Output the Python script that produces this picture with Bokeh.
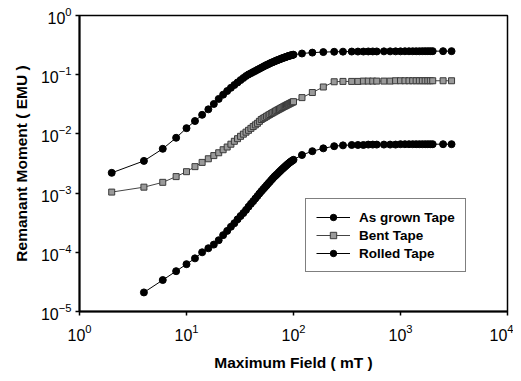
from bokeh.plotting import figure
from bokeh.models import Legend, LegendItem, FixedTicker
from bokeh.embed import file_html
from bokeh.resources import INLINE

# Maximum field (mT)
field = [2, 4, 6, 8, 10, 12, 14, 16, 18, 20,
         22, 24, 26, 28, 30, 32, 34, 36, 38, 40,
         42, 44, 46, 48, 50, 52, 54, 56, 58, 60,
         62, 64, 66, 68, 70, 72, 74, 76, 78, 80,
         82, 84, 86, 88, 90, 92, 94, 96, 98, 100,
         120, 150, 190, 240, 290, 350,
         400, 450, 500, 550, 600, 700, 800, 900, 1000, 1100,
         1200, 1300, 1400, 1500, 1600, 1700, 1800, 1900, 2000,
         2500, 3000]

as_grown = [0.0022, 0.0035, 0.0056, 0.0086, 0.0125, 0.0165, 0.021, 0.026, 0.032, 0.039,
            0.046, 0.053, 0.060, 0.067, 0.074, 0.081, 0.088, 0.095, 0.101, 0.106,
            0.111, 0.116, 0.121, 0.126, 0.131, 0.136, 0.141, 0.146, 0.150, 0.155,
            0.159, 0.163, 0.167, 0.171, 0.175, 0.178, 0.182, 0.185, 0.189, 0.192,
            0.195, 0.198, 0.201, 0.204, 0.207, 0.209, 0.212, 0.214, 0.216, 0.218,
            0.228, 0.236, 0.241, 0.244, 0.245, 0.246,
            0.246, 0.246, 0.247, 0.247, 0.247, 0.248, 0.248, 0.248, 0.248, 0.249,
            0.249, 0.249, 0.249, 0.249, 0.250, 0.250, 0.250, 0.250, 0.250,
            0.250, 0.250]

bent = [0.00104, 0.00126, 0.00152, 0.0019, 0.0023, 0.0028, 0.0033, 0.0038, 0.0043, 0.0048,
        0.0054, 0.0060, 0.0067, 0.0075, 0.0083, 0.0091, 0.0099, 0.0107, 0.0115, 0.0124,
        0.0133, 0.0142, 0.0151, 0.0163, 0.0175, 0.0183, 0.0190, 0.0198, 0.0206, 0.0213,
        0.0221, 0.0228, 0.0235, 0.0243, 0.0250, 0.0257, 0.0264, 0.0271, 0.0278, 0.0285,
        0.0292, 0.0298, 0.0305, 0.0312, 0.0318, 0.0325, 0.0331, 0.0338, 0.0344, 0.0350,
        0.041, 0.050, 0.062, 0.076, 0.077, 0.077,
        0.077, 0.078, 0.078, 0.078, 0.078, 0.078, 0.078, 0.079, 0.079, 0.079,
        0.079, 0.079, 0.079, 0.079, 0.079, 0.079, 0.079, 0.079, 0.079,
        0.079, 0.079]

# Rolled tape has no point at 2 mT
rolled_field = field[1:]
rolled = [2.1e-5, 3.4e-5, 4.8e-5, 6.3e-5, 7.9e-5, 1.0e-4, 1.17e-4, 1.35e-4, 1.6e-4,
          1.95e-4, 2.3e-4, 2.7e-4, 3.1e-4, 3.6e-4, 4.1e-4, 4.6e-4, 5.2e-4, 5.9e-4, 6.6e-4,
          7.3e-4, 8.1e-4, 8.9e-4, 9.8e-4, 1.07e-3, 1.16e-3, 1.25e-3, 1.35e-3, 1.45e-3, 1.55e-3,
          1.66e-3, 1.77e-3, 1.88e-3, 1.98e-3, 2.08e-3, 2.19e-3, 2.30e-3, 2.41e-3, 2.52e-3, 2.63e-3,
          2.74e-3, 2.85e-3, 2.96e-3, 3.07e-3, 3.18e-3, 3.28e-3, 3.38e-3, 3.47e-3, 3.56e-3, 3.65e-3,
          4.4e-3, 5.1e-3, 5.7e-3, 6.2e-3, 6.4e-3, 6.5e-3,
          6.5e-3, 6.5e-3, 6.6e-3, 6.6e-3, 6.6e-3, 6.6e-3, 6.6e-3, 6.6e-3, 6.7e-3, 6.7e-3,
          6.7e-3, 6.7e-3, 6.7e-3, 6.7e-3, 6.7e-3, 6.7e-3, 6.7e-3, 6.7e-3, 6.7e-3,
          6.7e-3, 6.7e-3]

x_ticks = [1, 10, 100, 1000, 10000]
y_ticks = [1e-5, 1e-4, 1e-3, 1e-2, 1e-1, 1]

FONT = "Liberation Sans"

p = figure(width=513, height=373, x_axis_type="log", y_axis_type="log",
           x_range=(1, 10000), y_range=(1e-5, 1),
           output_backend="svg", toolbar_location=None,
           min_border_left=79, min_border_right=6, min_border_top=15, min_border_bottom=58)

p.xgrid.visible = False
p.ygrid.visible = False
p.outline_line_color = "black"
p.outline_line_width = 1.5
p.background_fill_color = "white"
p.border_fill_color = "white"

for ax in (p.xaxis[0], p.yaxis[0]):
    ax.axis_line_width = 2
    ax.axis_line_color = "black"
    ax.major_tick_line_width = 1.5
    ax.major_tick_out = 4
    ax.major_tick_in = 0
    ax.minor_tick_line_color = None
    ax.major_label_text_font = FONT
    ax.major_label_text_font_size = "16px"
    ax.major_label_text_color = "black"
    ax.axis_label_text_font = FONT
    ax.axis_label_text_font_size = "15.5px"
    ax.axis_label_text_font_style = "bold"
    ax.axis_label_text_color = "black"

p.xaxis.ticker = FixedTicker(ticks=x_ticks)
p.yaxis.ticker = FixedTicker(ticks=y_ticks)
p.xaxis.axis_label = "Maximum Field ( mT )"
p.yaxis.axis_label = "Remanant Moment ( EMU )"
p.xaxis.major_label_standoff = 8
p.xaxis.axis_label_standoff = 10
p.yaxis.major_label_standoff = 4
p.yaxis.axis_label_standoff = 8

l1 = p.line(field, as_grown, line_color="black", line_width=1)
s1 = p.scatter(field, as_grown, marker="circle", size=7, fill_color="black", line_color="black")
l2 = p.line(field, bent, line_color="#444444", line_width=1)
s2 = p.scatter(field, bent, marker="square", size=6, fill_color="#9a9a9a", line_color="#3a3a3a", line_width=1)
l3 = p.line(rolled_field, rolled, line_color="black", line_width=1)
s3 = p.scatter(rolled_field, rolled, marker="circle", size=7, fill_color="black", line_color="black")

legend = Legend(items=[
    LegendItem(label="As grown Tape", renderers=[l1, s1]),
    LegendItem(label="Bent Tape", renderers=[l2, s2]),
    LegendItem(label="Rolled Tape", renderers=[l3, s3]),
], location=(226, 39))
legend.label_text_font = FONT
legend.label_text_font_size = "13.5px"
legend.label_text_font_style = "bold"
legend.label_text_color = "black"
legend.border_line_color = "black"
legend.border_line_width = 1.5
legend.background_fill_color = "white"
legend.background_fill_alpha = 1
legend.glyph_width = 34
legend.glyph_height = 16
legend.label_height = 16
legend.label_standoff = 9
legend.spacing = 2
legend.padding = 10
legend.margin = 0
p.add_layout(legend, "center")

open("out.html", "w").write(file_html(p, INLINE))
